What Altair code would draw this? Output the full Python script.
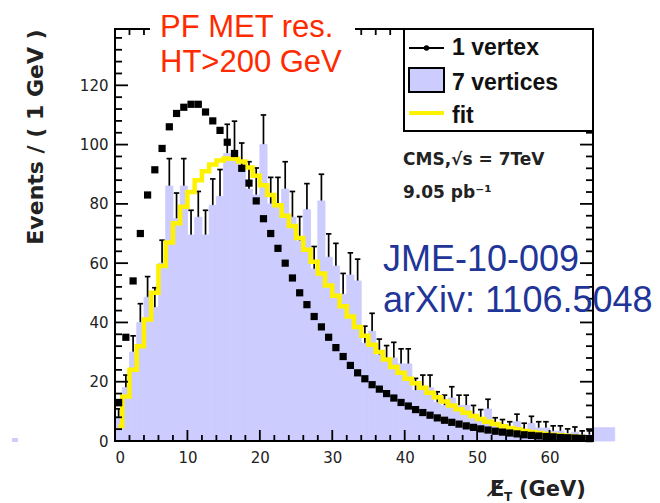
import altair as alt
import pandas as pd
import numpy as np

W, H = 478, 412
XMAX, YMAX = 66, 139

# ---------------- data (1 GeV bins, 0..66) ----------------
bin_lo = list(range(0, 66))

one_vertex = [13, 35, 54, 70, 83, 91.5, 98.7, 106, 110.5, 112.6, 113.6, 113.6, 111, 108,
              104.8, 100.8, 97, 92, 87, 81, 75, 70, 65, 60, 55, 50, 46, 42, 38.5, 35, 31.5,
              28.5, 25.5, 23, 21, 19, 17.5, 16, 14.5, 13, 11.8, 10.6, 9.6, 8.7, 7.8, 7.0,
              6.3, 5.7, 5.1, 4.6, 4.1, 3.7, 3.3, 3.0, 2.7, 2.4, 2.1, 1.9, 1.7, 1.5, 1.4,
              1.2, 1.1, 1.0, 0.9, 0.8]

seven_vertices = [8, 18, 30, 40, 48.5, 45, 60, 86, 75, 86, 69.5, 75.5, 69.5, 79.5, 82.5,
                  97, 98, 91, 85, 83, 100, 80, 80, 85, 75.5, 67.5, 78, 58, 81, 62, 59,
                  49.5, 56, 54, 33, 37, 29, 27, 28, 26, 26, 17, 18, 18, 13, 12, 14.5, 12,
                  12, 9, 7.8, 10.8, 5.5, 5, 4.4, 6.5, 4, 5.9, 4.4, 4.4, 3.3, 3.3, 2.5, 3,
                  2, 2]

overflow_lo = [66, 67, 68]
overflow_vals = [4.5, 4.5, 4.5]

fit_vals = [5, 15, 24, 32, 41, 50, 59, 67, 73.5, 79, 84, 88, 91, 93.3, 94.6, 95.3, 95.2,
            94.3, 92.3, 89.5, 86.3, 83, 79.5, 76, 72.5, 68.5, 64.5, 60.5, 56.5, 52.5, 49,
            45.5, 42, 38.5, 35.5, 32.5, 30, 27.5, 25, 23, 21, 19.5, 18, 16.3, 14.8, 13.3,
            12, 10.7, 9.5, 8.4, 7.4, 6.5, 5.7, 5, 4.4, 3.9, 3.4, 3, 2.7, 2.4, 2.1, 1.9,
            1.7, 1.5, 1.3, 1.2]

x_major = [0, 10, 20, 30, 40, 50, 60]
x_minor = [2, 4, 6, 8, 12, 14, 16, 18, 22, 24, 26, 28, 32, 34, 36, 38, 42, 44, 46, 48,
           52, 54, 56, 58, 62, 64]
y_major = [0, 20, 40, 60, 80, 100, 120]
y_minor = [4, 8, 12, 16, 24, 28, 32, 36, 44, 48, 52, 56, 64, 68, 72, 76, 84, 88, 92, 96,
           104, 108, 112, 116, 124, 128, 132, 136]

# ---------------- tables ----------------
hist = pd.DataFrame({"lo": bin_lo + overflow_lo, "val": seven_vertices + overflow_vals})
hist["hi"] = hist["lo"] + 1
hist["base"] = 0.0

err = pd.DataFrame({"c": [b + 0.5 for b in bin_lo], "val": seven_vertices})
err["elo"] = err["val"] - np.sqrt(err["val"])
err["ehi"] = err["val"] + np.sqrt(err["val"])
err["cl"] = err["c"] - 0.38
err["cr"] = err["c"] + 0.38

pts = pd.DataFrame({"c": [b + 0.5 for b in bin_lo], "v": one_vertex, "f": fit_vals})
one = pd.DataFrame({"k": [0]})

xs = alt.Scale(domain=[0, XMAX], nice=False, zero=False)
ys = alt.Scale(domain=[0, YMAX], nice=False, zero=False)

AX_FONT = "DejaVu Sans"
BLUE = "#ccccff"
YEL = "#fff200"

bars = alt.Chart(hist).mark_bar(color=BLUE, stroke=BLUE, strokeWidth=0.8,
                                clip=False).encode(
    x=alt.X("lo:Q", scale=xs, axis=alt.Axis(values=x_major, domain=False, ticks=False,
            grid=False, labelFont=AX_FONT, labelFontSize=15, labelColor="#222222",
            labelPadding=9, title=None, format="d")),
    x2="hi:Q",
    y=alt.Y("val:Q", scale=ys, axis=alt.Axis(values=y_major, domain=False, ticks=False,
            grid=False, labelFont=AX_FONT, labelFontSize=15, labelColor="#222222",
            labelPadding=7, title=None, format="d")),
    y2="base:Q",
)

err_rules = alt.Chart(err).mark_rule(color="black", strokeWidth=1.7).encode(
    x=alt.X("c:Q", scale=xs), y=alt.Y("elo:Q", scale=ys), y2="ehi:Q")
err_caps = alt.Chart(err).mark_rule(color="black", strokeWidth=1.7).encode(
    x=alt.X("cl:Q", scale=xs), x2="cr:Q", y=alt.Y("ehi:Q", scale=ys))

fit = alt.Chart(pts).mark_line(color=YEL, strokeWidth=4.5, interpolate="step").encode(
    x=alt.X("c:Q", scale=xs), y=alt.Y("f:Q", scale=ys))

squares = alt.Chart(pts).mark_square(color="black", size=52, opacity=1).encode(
    x=alt.X("c:Q", scale=xs), y=alt.Y("v:Q", scale=ys))


def ticks(values, side, length):
    df = pd.DataFrame({"p": values})
    m = alt.Chart(df).mark_rule(color="black", strokeWidth=1.8)
    if side == "bottom":
        return m.encode(x=alt.X("p:Q", scale=xs), y=alt.value(H), y2=alt.value(H - length))
    if side == "top":
        return m.encode(x=alt.X("p:Q", scale=xs), y=alt.value(0), y2=alt.value(length))
    if side == "left":
        return m.encode(y=alt.Y("p:Q", scale=ys), x=alt.value(0), x2=alt.value(length))
    return m.encode(y=alt.Y("p:Q", scale=ys), x=alt.value(W), x2=alt.value(W - length))


tick_layers = [
    ticks(x_major, "bottom", 11), ticks(x_minor, "bottom", 6),
    ticks(x_major, "top", 11), ticks(x_minor, "top", 6),
    ticks(y_major, "left", 13), ticks(y_minor, "left", 7),
    ticks(y_major, "right", 13), ticks(y_minor, "right", 7),
]

frame = alt.Chart(one).mark_rect(fill="white", fillOpacity=0, stroke="black",
                                 strokeWidth=2).encode(
    x=alt.value(0), x2=alt.value(W), y=alt.value(0), y2=alt.value(H))


def rect(x1, x2, y1, y2, **kw):
    return alt.Chart(one).mark_rect(**kw).encode(
        x=alt.value(x1), x2=alt.value(x2), y=alt.value(y1), y2=alt.value(y2))


def hline(x1, x2, y, color, width):
    return alt.Chart(one).mark_rule(color=color, strokeWidth=width).encode(
        x=alt.value(x1), x2=alt.value(x2), y=alt.value(y))


def text(txt, x, y, font, size, color, weight="normal", angle=0, align="left",
         baseline="alphabetic"):
    return alt.Chart(one).mark_text(text=txt, font=font, fontSize=size, color=color,
                                    fontWeight=weight, angle=angle, align=align,
                                    baseline=baseline).encode(
        x=alt.value(x), y=alt.value(y))


white_box = rect(35, 240, -29, 50, color="white")
stray = rect(-103, -97, 409, 413, color=BLUE)

legend = [
    rect(289, W, 0, 102, fill="white", stroke="black", strokeWidth=2),
    hline(294, 329, 19, "black", 2),
    alt.Chart(one).mark_circle(color="black", size=30, opacity=1).encode(
        x=alt.value(311.5), y=alt.value(19)),
    rect(294, 329, 39, 63, fill=BLUE, stroke="black", strokeWidth=2),
    hline(294, 329, 84, YEL, 4),
    text("1 vertex", 337, 26, "Liberation Sans", 23, "#111111", "bold"),
    text("7 vertices", 337, 61, "Liberation Sans", 23, "#111111", "bold"),
    text("fit", 337, 94, "Liberation Sans", 23, "#111111", "bold"),
]

labels = [
    text("CMS,\u221as = 7TeV", 288, 136, "DejaVu Sans", 17, "#222222", "bold"),
    text("9.05 pb\u207b\u00b9", 288, 169, "DejaVu Sans", 17, "#222222", "bold"),
    text("PF MET res.", 45, 8, "Liberation Sans", 31, "#ff2a00"),
    text("HT>200 GeV", 45, 43, "Liberation Sans", 31, "#ff2a00"),
    text("JME-10-009", 268, 242, "Liberation Sans", 36, "#1f3598"),
    text("arXiv: 1106.5048", 268, 283, "Liberation Sans", 36, "#1f3598"),
    text("Events / ( 1 GeV )", -79, 108, "DejaVu Sans", 22, "#222222", "bold",
         angle=270, align="center", baseline="middle"),
    text("E\u0338", 375, 467, "DejaVu Sans", 21, "#222222", "bold"),
    text("T", 389, 472, "DejaVu Sans", 12, "#222222", "bold"),
    text("(GeV)", 404, 467, "DejaVu Sans", 21, "#222222", "bold"),
]

chart = alt.layer(
    err_rules, err_caps, bars, stray, fit, squares, *tick_layers, frame, white_box,
    *legend, *labels
).properties(
    width=W, height=H,
    autosize=alt.AutoSizeParams(type="none"),
    padding={"left": 115, "top": 29, "right": 67, "bottom": 62},
    background="white",
).configure_view(stroke=None)

chart.save("out.html", embed_options={"renderer": "svg", "actions": False})
